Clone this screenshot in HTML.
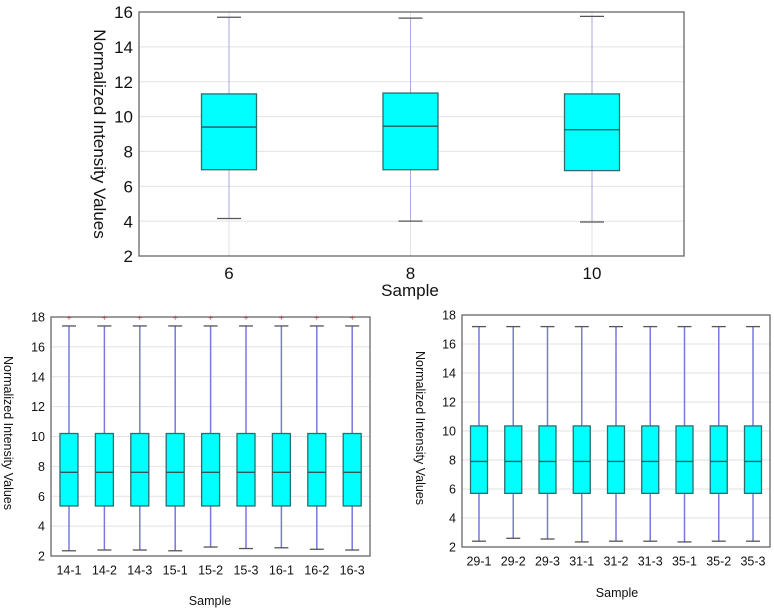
<!DOCTYPE html>
<html><head><meta charset="utf-8"><style>
body{margin:0;background:#fff;}
svg{display:block;font-family:"Liberation Sans",Arial,sans-serif;}
</style></head><body>
<svg id="c" width="774" height="612" viewBox="0 0 774 612"></svg>
<script>
// Top chart data
const topCats=["6","8","10"];
const topWhiskHi=[15.7,15.65,15.75];
const topQ3=[11.3,11.35,11.3];
const topMed=[9.4,9.45,9.25];
const topQ1=[6.95,6.95,6.9];
const topWhiskLo=[4.15,4.0,3.95];
const topTicks=[2,4,6,8,10,12,14,16];
// Bottom-left data
const blCats=["14-1","14-2","14-3","15-1","15-2","15-3","16-1","16-2","16-3"];
const blWhiskHi=[17.4,17.4,17.4,17.4,17.4,17.4,17.4,17.4,17.4];
const blQ3=[10.2,10.2,10.2,10.2,10.2,10.2,10.2,10.2,10.2];
const blMed=[7.6,7.6,7.6,7.6,7.6,7.6,7.6,7.6,7.6];
const blQ1=[5.35,5.35,5.35,5.35,5.35,5.35,5.35,5.35,5.35];
const blWhiskLo=[2.35,2.4,2.4,2.35,2.6,2.5,2.55,2.45,2.4];
const blOutlier=[18,18,18,18,18,18,18,18,18];
const blTicks=[2,4,6,8,10,12,14,16,18];
// Bottom-right data
const brCats=["29-1","29-2","29-3","31-1","31-2","31-3","35-1","35-2","35-3"];
const brWhiskHi=[17.2,17.2,17.2,17.2,17.2,17.2,17.2,17.2,17.2];
const brQ3=[10.35,10.35,10.35,10.35,10.35,10.35,10.35,10.35,10.35];
const brMed=[7.9,7.9,7.9,7.9,7.9,7.9,7.9,7.9,7.9];
const brQ1=[5.7,5.7,5.7,5.7,5.7,5.7,5.7,5.7,5.7];
const brWhiskLo=[2.4,2.6,2.55,2.35,2.4,2.4,2.35,2.4,2.4];
const brTicks=[2,4,6,8,10,12,14,16,18];

const NS="http://www.w3.org/2000/svg";
const svg=document.getElementById('c');
function mk(tag,attrs,parent){const e=document.createElementNS(NS,tag);for(const k in attrs)e.setAttribute(k,attrs[k]);(parent||svg).appendChild(e);return e;}

function chart(o){
  const g=mk('g',{});
  
  
  const y=v=>o.b-(v-o.ymin)/(o.ymax-o.ymin)*(o.b-o.t);
  const n=o.cats.length;
  const x=i=>o.x0+i*o.dx;
  // grid
  o.ticks.forEach(tv=>{
    const gl=mk('line',{x1:o.l,x2:o.r,y1:y(tv),y2:y(tv),stroke:'#e2e2e2','stroke-width':1},g);
    
    
    const tl=mk('text',{x:o.l-6,y:y(tv)+o.fs*0.36,'text-anchor':'end','font-size':o.fs,fill:'#111'},g);
    tl.textContent=tv;
    
    
  });
  for(let i=0;i<n;i++){
    const xc=x(i);
    if(o.vgrid){const vg=mk('line',{x1:xc,x2:xc,y1:o.t,y2:o.b,stroke:'#e2e2e2'},g);
      
      }
    const wk=mk('line',{x1:xc,x2:xc,y1:y(o.hi[i]),y2:y(o.lo[i]),stroke:o.wcol,'stroke-width':o.ww},g);
    
    
    [o.hi[i],o.lo[i]].forEach(v=>{
      const cap=mk('line',{x1:xc-o.cap,x2:xc+o.cap,y1:y(v),y2:y(v),stroke:'#555','stroke-width':1.3},g);
      
      
    });
    const bx=mk('rect',{x:xc-o.bw/2,y:y(o.q3[i]),width:o.bw,height:y(o.q1[i])-y(o.q3[i]),fill:'#00ffff',stroke:'#2a6e6e','stroke-width':1.3},g);
    
    
    const md=mk('line',{x1:xc-o.bw/2,x2:xc+o.bw/2,y1:y(o.med[i]),y2:y(o.med[i]),stroke:'#2a5a5a','stroke-width':1.4},g);
    
    
    if(o.out){const ot=mk('text',{x:xc,y:y(o.out[i])+4,'text-anchor':'middle','font-size':9,fill:'#e05050'},g);
      ot.textContent='+';
      
      }
    const xl=mk('text',{x:xc,y:o.b+o.fs+6,'text-anchor':'middle','font-size':o.fs,fill:'#111'},g);
    xl.textContent=o.cats[i];
    
    
  }
  const fr=mk('rect',{x:o.l,y:o.t,width:o.r-o.l,height:o.b-o.t,fill:'none',stroke:'#666','stroke-width':1.3},g);
  
  
  const xt=mk('text',{x:o.xtx,y:o.xty,'text-anchor':'middle','font-size':o.tfs,fill:'#111'},g);
  xt.textContent='Sample';
  
  
  const yt=mk('text',{x:0,y:0,'text-anchor':'middle','font-size':o.tfs,fill:'#111',transform:`translate(${o.ytx},${o.yty}) rotate(90)`},g);
  yt.textContent='Normalized Intensity Values';
  
  
}
chart({name:'top-chart',cats:topCats,hi:topWhiskHi,q3:topQ3,med:topMed,q1:topQ1,lo:topWhiskLo,ticks:topTicks,
  ymin:2,ymax:16,l:139,r:684,t:12,b:256,x0:229,dx:181.5,bw:55,cap:12,wcol:'#a8a8e0',ww:1,fs:17,tfs:17,vgrid:true,
  xtx:410,xty:296,ytx:94,yty:134});
chart({name:'bottom-left-chart',cats:blCats,hi:blWhiskHi,q3:blQ3,med:blMed,q1:blQ1,lo:blWhiskLo,out:blOutlier,ticks:blTicks,
  ymin:2,ymax:18,l:51,r:370,t:317,b:556,x0:69,dx:35.4,bw:18,cap:7,wcol:'#7878dd',ww:1.5,fs:12.5,tfs:12.5,vgrid:false,
  xtx:210,xty:605,ytx:4,yty:433});
chart({name:'bottom-right-chart',cats:brCats,hi:brWhiskHi,q3:brQ3,med:brMed,q1:brQ1,lo:brWhiskLo,ticks:brTicks,
  ymin:2,ymax:18,l:462,r:770,t:315,b:547,x0:479,dx:34.25,bw:17,cap:7,wcol:'#7878dd',ww:1.5,fs:12.5,tfs:12.5,vgrid:false,
  xtx:617,xty:597,ytx:416,yty:428});
</script>
</body></html>
